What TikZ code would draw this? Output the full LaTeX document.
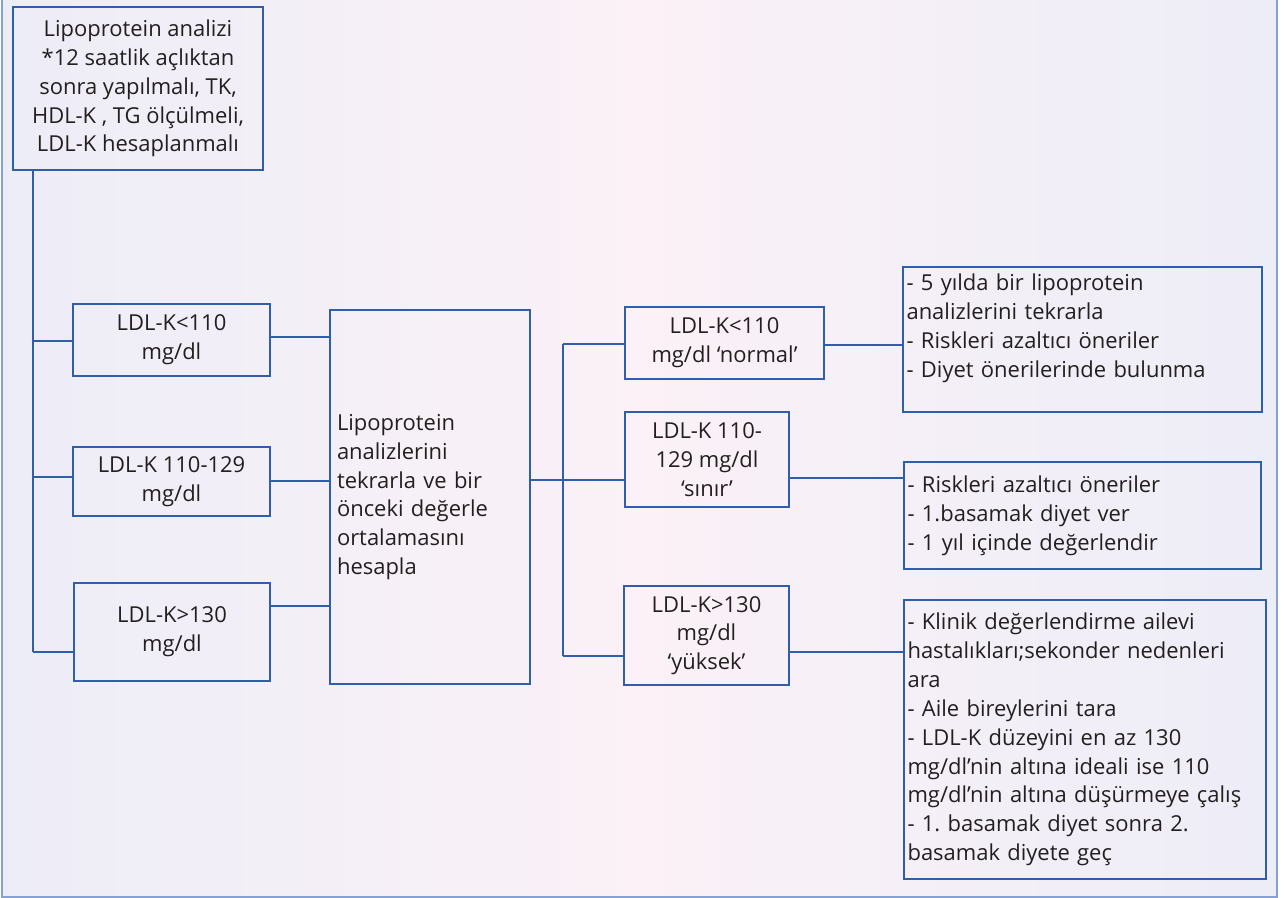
\documentclass[tikz,border=0pt]{standalone}
\usepackage{fontspec}
\setmainfont{Open Sans}
\definecolor{hatmavi}{HTML}{2F5FAB}
\definecolor{cerceve}{HTML}{86A2D4}
\definecolor{yazi}{HTML}{231F20}
\definecolor{zeminmavi}{HTML}{EDEDF7}
\definecolor{zeminpembe}{HTML}{FBF1F7}
\frenchspacing
\begin{document}
\begin{tikzpicture}[
    x=0.02cm, y=-0.02cm,
    kutu/.style={draw=hatmavi, line width=0.85pt, text=yazi, align=center,
        font=\fontsize{12.5}{16.4}\selectfont, inner sep=2pt},
    liste/.style={kutu, align=left, inner xsep=0.07cm},
    hat/.style={draw=hatmavi, line width=0.85pt}
]
\useasboundingbox (0,0) rectangle (1284,898);
\fill[white] (0,0) rectangle (1284,898);
\shade[left color=zeminmavi, right color=zeminmavi, middle color=zeminpembe] (2,0) rectangle (1277,897);
\draw[cerceve, line width=1.2pt] (2,0) -- (2,897) -- (1277,897) -- (1277,0);

% Analiz kutusu
\node[kutu, minimum width=5cm, minimum height=3.26cm] (analiz) at (138,88.5)
    {Lipoprotein analizi\\ *12 saatlik açlıktan\\ sonra yapılmalı, TK,\\ HDL-K , TG ölçülmeli,\\ LDL-K hesaplanmalı};

% Ilk olcum
\node[kutu, minimum width=3.94cm, minimum height=1.44cm] (ilk1) at (171.5,340) {LDL-K<110\\ mg/dl};
\node[kutu, minimum width=3.94cm, minimum height=1.38cm] (ilk2) at (171.5,481.5) {LDL-K 110-129\\ mg/dl};
\node[kutu, minimum width=3.92cm, minimum height=1.96cm] (ilk3) at (172,632) {LDL-K>130\\ mg/dl};

% Tekrar analiz
\node[liste, text width=3.72cm, inner xsep=0.14cm, minimum height=7.48cm] (tekrar) at (430,497)
    {Lipoprotein\\ analizlerini\\ tekrarla ve bir\\ önceki değerle\\ ortalamasını\\ hesapla};

% Ortalama sonuclari
\node[kutu, minimum width=3.98cm, minimum height=1.44cm] (normal) at (724.5,343) {LDL-K<110\\ mg/dl ‘normal’};
\node[kutu, minimum width=3.28cm, minimum height=1.9cm] (sinir) at (707,459.5) {LDL-K 110-\\ 129 mg/dl\\ ‘sınır’};
\node[kutu, minimum width=3.3cm, minimum height=1.98cm] (yuksek) at (706.5,635.5) {LDL-K>130\\ mg/dl\\ ‘yüksek’};

% Oneriler
\node[liste, text width=7.04cm, minimum height=2.9cm, text depth=2.28cm] (oneri1) at (1082.5,339.5)
    {- 5 yılda bir lipoprotein\\ analizlerini tekrarla\\ - Riskleri azaltıcı öneriler\\ - Diyet önerilerinde bulunma};
\node[liste, text width=7.0cm, minimum height=2.14cm] (oneri2) at (1082.5,515.5)
    {- Riskleri azaltıcı öneriler\\ - 1.basamak diyet ver\\ - 1 yıl içinde değerlendir};
\node[liste, text width=7.1cm, minimum height=5.58cm] (oneri3) at (1085,739.5)
    {- Klinik değerlendirme ailevi\\ hastalıkları;sekonder nedenleri\\ ara\\ - Aile bireylerini tara\\ - LDL-K düzeyini en az 130\\ mg/dl’nin altına ideali ise 110\\ mg/dl’nin altına düşürmeye çalış\\ - 1. basamak diyet sonra 2.\\ basamak diyete geç};

% Baglanti noktalari
\coordinate (t0) at (33,170);
\coordinate (t1) at (33,341);
\coordinate (t2) at (33,477);
\coordinate (t3) at (33,652);
\coordinate (m1) at (330,337);
\coordinate (m2) at (330,481);
\coordinate (m3) at (330,606);
\coordinate (d0) at (563,480);
\coordinate (d1) at (563,344);
\coordinate (d3) at (563,656);
\coordinate (r1) at (903,345);
\coordinate (r2) at (904,478);
\coordinate (r3) at (904,652);

\draw[hat] (t0) -- (t3);
\draw[hat] (t1) -- (t1 -| ilk1.west);
\draw[hat] (t2) -- (t2 -| ilk2.west);
\draw[hat] (t3) -- (t3 -| ilk3.west);
\draw[hat] (ilk1.east |- m1) -- (m1);
\draw[hat] (ilk2.east |- m2) -- (m2);
\draw[hat] (ilk3.east |- m3) -- (m3);
\draw[hat] (tekrar.east |- d0) -- (d0);
\draw[hat] (d1) -- (d3);
\draw[hat] (d1) -- (d1 -| normal.west);
\draw[hat] (d0) -- (d0 -| sinir.west);
\draw[hat] (d3) -- (d3 -| yuksek.west);
\draw[hat] (normal.east |- r1) -- (r1);
\draw[hat] (sinir.east |- r2) -- (r2);
\draw[hat] (yuksek.east |- r3) -- (r3);
\end{tikzpicture}
\end{document}
